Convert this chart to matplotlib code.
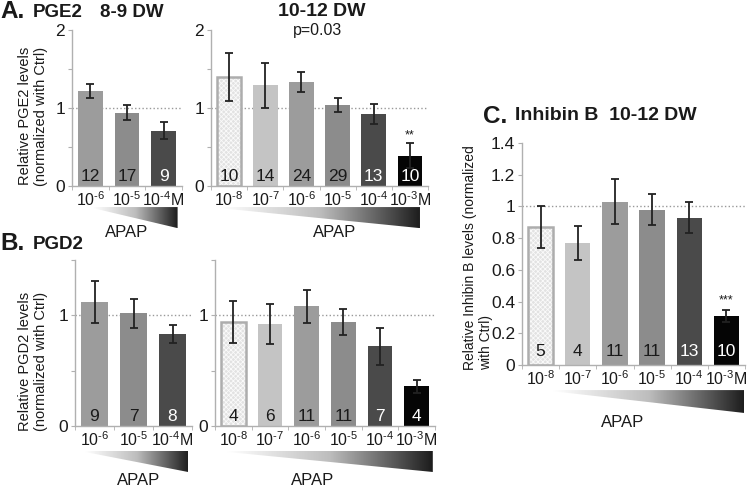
import numpy as np
import matplotlib
matplotlib.use("Agg")
import matplotlib.pyplot as plt
from matplotlib.colors import LinearSegmentedColormap
from matplotlib.patches import Polygon

plt.rcParams["font.family"] = ["Liberation Sans", "DejaVu Sans"]
plt.rcParams["mathtext.fontset"] = "custom"
plt.rcParams["mathtext.rm"] = "Liberation Sans"
plt.rcParams["mathtext.default"] = "regular"
plt.rcParams["hatch.linewidth"] = 0.6

# doses
dose_early = ["10$^{\\text{-6}}$", "10$^{\\text{-5}}$", "10$^{\\text{-4}}$M"]
dose_late = ["10$^{\\text{-8}}$", "10$^{\\text{-7}}$", "10$^{\\text{-6}}$",
             "10$^{\\text{-5}}$", "10$^{\\text{-4}}$", "10$^{\\text{-3}}$M"]

# A. PGE2
pge2_early = [1.22, 0.94, 0.71]
pge2_early_err = [0.09, 0.10, 0.11]
pge2_early_n = [12, 17, 9]
pge2_late = [1.40, 1.29, 1.33, 1.04, 0.92, 0.39]
pge2_late_err = [0.31, 0.29, 0.13, 0.09, 0.13, 0.16]
pge2_late_n = [10, 14, 24, 29, 13, 10]

# B. PGD2
pgd2_early = [1.12, 1.02, 0.83]
pgd2_early_err = [0.19, 0.13, 0.08]
pgd2_early_n = [9, 7, 8]
pgd2_late = [0.94, 0.92, 1.08, 0.94, 0.72, 0.36]
pgd2_late_err = [0.19, 0.18, 0.15, 0.115, 0.165, 0.06]
pgd2_late_n = [4, 6, 11, 11, 7, 4]

# C. Inhibin B
inhb_late = [0.87, 0.77, 1.03, 0.98, 0.93, 0.31]
inhb_late_err = [0.13, 0.105, 0.14, 0.10, 0.10, 0.04]
inhb_late_n = [5, 4, 11, 11, 13, 10]

late_colors = ["hatch", "#c4c4c4", "#9c9c9c", "#8c8c8c", "#4a4a4a", "#050505"]
early_colors = late_colors[2:5]
dark_bars = {"#4a4a4a", "#050505"}

SPINE = "#b0b0b0"
INK = "#1a1a1a"
wedge_cmap = LinearSegmentedColormap.from_list("apap", ["#ffffff", "#bdbdbd", "#1c1c1c"])


def fx(px):
    return px / 750


def fy(py):
    return 1 - py / 490


def add_wedge(ax, rect, label_xy):
    w = ax.inset_axes(rect)
    grad = np.linspace(0, 1, 256).reshape(1, -1)
    im = w.imshow(grad, extent=[0, 1, 0, 1], aspect="auto", cmap=wedge_cmap, origin="lower")
    tri = Polygon([(0, 1), (1, 1), (1, 0), (0, 0.95)], closed=True,
                  transform=w.transData, facecolor="none", edgecolor="none")
    w.add_patch(tri)
    im.set_clip_path(tri)
    w.set_xlim(0, 1)
    w.set_ylim(0, 1)
    w.axis("off")
    ax.text(label_xy[0], label_xy[1], "APAP", transform=ax.transAxes,
            ha="center", va="center", fontsize=12, color=INK, clip_on=False)


def draw_panel(ax, labels, values, errors, counts, colors, ymax, yticks, yticklabels, stars=None):
    x = np.arange(len(values))
    for xi, v, c in zip(x, values, colors):
        if c == "hatch":
            ax.bar(xi, v, width=0.68, color="#e2e2e2", edgecolor="#fafafa", hatch="xxxxxxx",
                   linewidth=0, zorder=2)
            ax.bar(xi, v, width=0.68, fill=False, edgecolor="#adadad", linewidth=1.8, zorder=3)
        else:
            ax.bar(xi, v, width=0.68, color=c, linewidth=0, zorder=2)
    ax.errorbar(x, values, yerr=errors, fmt="none", ecolor="#222222", elinewidth=1.3,
                capsize=3, capthick=1.3, zorder=4)
    for xi, n, c in zip(x, counts, colors):
        ax.text(xi, 0.06, str(n), transform=ax.get_xaxis_transform(), ha="center", va="center",
                fontsize=12.5, color="white" if c in dark_bars else INK, zorder=5)
    if stars:
        i, s = stars
        ax.text(x[i], values[i] + errors[i] + 0.012 * ymax, s, ha="center", va="bottom",
                fontsize=9, color=INK)
    ax.axhline(1, color="#999999", linestyle=":", linewidth=1, zorder=1)
    ax.set_xlim(-0.5, len(values) - 0.5)
    ax.set_ylim(0, ymax)
    ax.set_xticks(x)
    ax.set_xticklabels(labels, fontsize=11.5, color=INK)
    ax.set_xticks(np.arange(len(values) + 1) - 0.5, minor=True)
    ax.tick_params(axis="x", which="major", length=0, pad=3)
    ax.tick_params(axis="x", which="minor", length=3, color=SPINE)
    ax.set_yticks(yticks)
    ax.set_yticklabels(yticklabels, fontsize=12.5, color=INK)
    ax.tick_params(axis="y", length=3, color=SPINE, pad=2)
    for side in ("top", "right"):
        ax.spines[side].set_visible(False)
    for side in ("left", "bottom"):
        ax.spines[side].set_color(SPINE)
        ax.spines[side].set_linewidth(1)


fig = plt.figure(figsize=(7.5, 4.9), dpi=100)

# panel A
ax_a1 = fig.add_axes([fx(72), fy(186), fx(110), 156 / 490])
ax_a2 = fig.add_axes([fx(211), fy(186), fx(217), 156 / 490])
# panel B
ax_b1 = fig.add_axes([fx(75), fy(426), fx(117), 166 / 490])
ax_b2 = fig.add_axes([fx(215), fy(426), fx(220), 166 / 490])
# panel C
ax_c = fig.add_axes([fx(522), fy(365), fx(223), 222 / 490])

a_ticks = [0, 0.5, 1, 1.5, 2]
a_labels = ["0", "", "1", "", "2"]
b_ticks = [0, 0.5, 1, 1.5]
b_labels = ["0", "", "1", ""]
c_ticks = [0, 0.2, 0.4, 0.6, 0.8, 1.0, 1.2, 1.4]
c_labels = ["0", "0.2", "0.4", "0.6", "0.8", "1", "1.2", "1.4"]

draw_panel(ax_a1, dose_early, pge2_early, pge2_early_err, pge2_early_n, early_colors, 2, a_ticks, a_labels)
draw_panel(ax_a2, dose_late, pge2_late, pge2_late_err, pge2_late_n, late_colors, 2, a_ticks, a_labels,
           stars=(5, "**"))
draw_panel(ax_b1, dose_early, pgd2_early, pgd2_early_err, pgd2_early_n, early_colors, 1.5, b_ticks, b_labels)
draw_panel(ax_b2, dose_late, pgd2_late, pgd2_late_err, pgd2_late_n, late_colors, 1.5, b_ticks, b_labels)
draw_panel(ax_c, dose_late, inhb_late, inhb_late_err, inhb_late_n, late_colors, 1.4, c_ticks, c_labels,
           stars=(5, "***"))

add_wedge(ax_a1, [0.19, -0.27, 0.77, 0.135], (0.5, -0.295))
add_wedge(ax_a2, [0.041, -0.27, 0.922, 0.135], (0.571, -0.295))
add_wedge(ax_b1, [0.085, -0.277, 0.881, 0.127], (0.54, -0.33))
add_wedge(ax_b2, [0.055, -0.277, 0.935, 0.127], (0.445, -0.33))
add_wedge(ax_c, [0.139, -0.216, 0.857, 0.103], (0.453, -0.261))

# titles
fig.text(fx(0), fy(0), "A.", fontsize=17.5, fontweight="bold", ha="left", va="top", color=INK)
fig.text(fx(33), fy(4), "PGE2", fontsize=13.5, fontweight="bold", ha="left", va="top", color=INK)
fig.text(fx(100), fy(4), "8-9 DW", fontsize=13.5, fontweight="bold", ha="left", va="top", color=INK)
fig.text(fx(322), fy(3), "10-12 DW", fontsize=14, fontweight="bold", ha="center", va="top", color=INK)
fig.text(fx(318), fy(30), "p=0.03", fontsize=11.5, ha="center", va="center", color=INK)
fig.text(fx(0), fy(232), "B.", fontsize=17.5, fontweight="bold", ha="left", va="top", color=INK)
fig.text(fx(33), fy(236), "PGD2", fontsize=13.5, fontweight="bold", ha="left", va="top", color=INK)
fig.text(fx(483), fy(105), "C.", fontsize=17.5, fontweight="bold", ha="left", va="top", color=INK)
fig.text(fx(515), fy(107), "Inhibin B  10-12 DW", fontsize=14, fontweight="bold", ha="left", va="top",
         color=INK)

# y labels
fig.text(fx(33), fy(116), "Relative PGE2 levels\n(normalized with Ctrl)", rotation=90,
         ha="center", va="center", multialignment="center", fontsize=10.5, color=INK, linespacing=1.2)
fig.text(fx(33), fy(361), "Relative PGD2 levels\n(normalized with Ctrl)", rotation=90,
         ha="center", va="center", multialignment="center", fontsize=10.5, color=INK, linespacing=1.2)
fig.text(fx(478), fy(370), "Relative Inhibin B levels (normalized\nwith Ctrl)", rotation=90,
         ha="center", va="bottom", multialignment="left", fontsize=10, color=INK, linespacing=1.2)

fig.savefig("out.png", dpi=100)
